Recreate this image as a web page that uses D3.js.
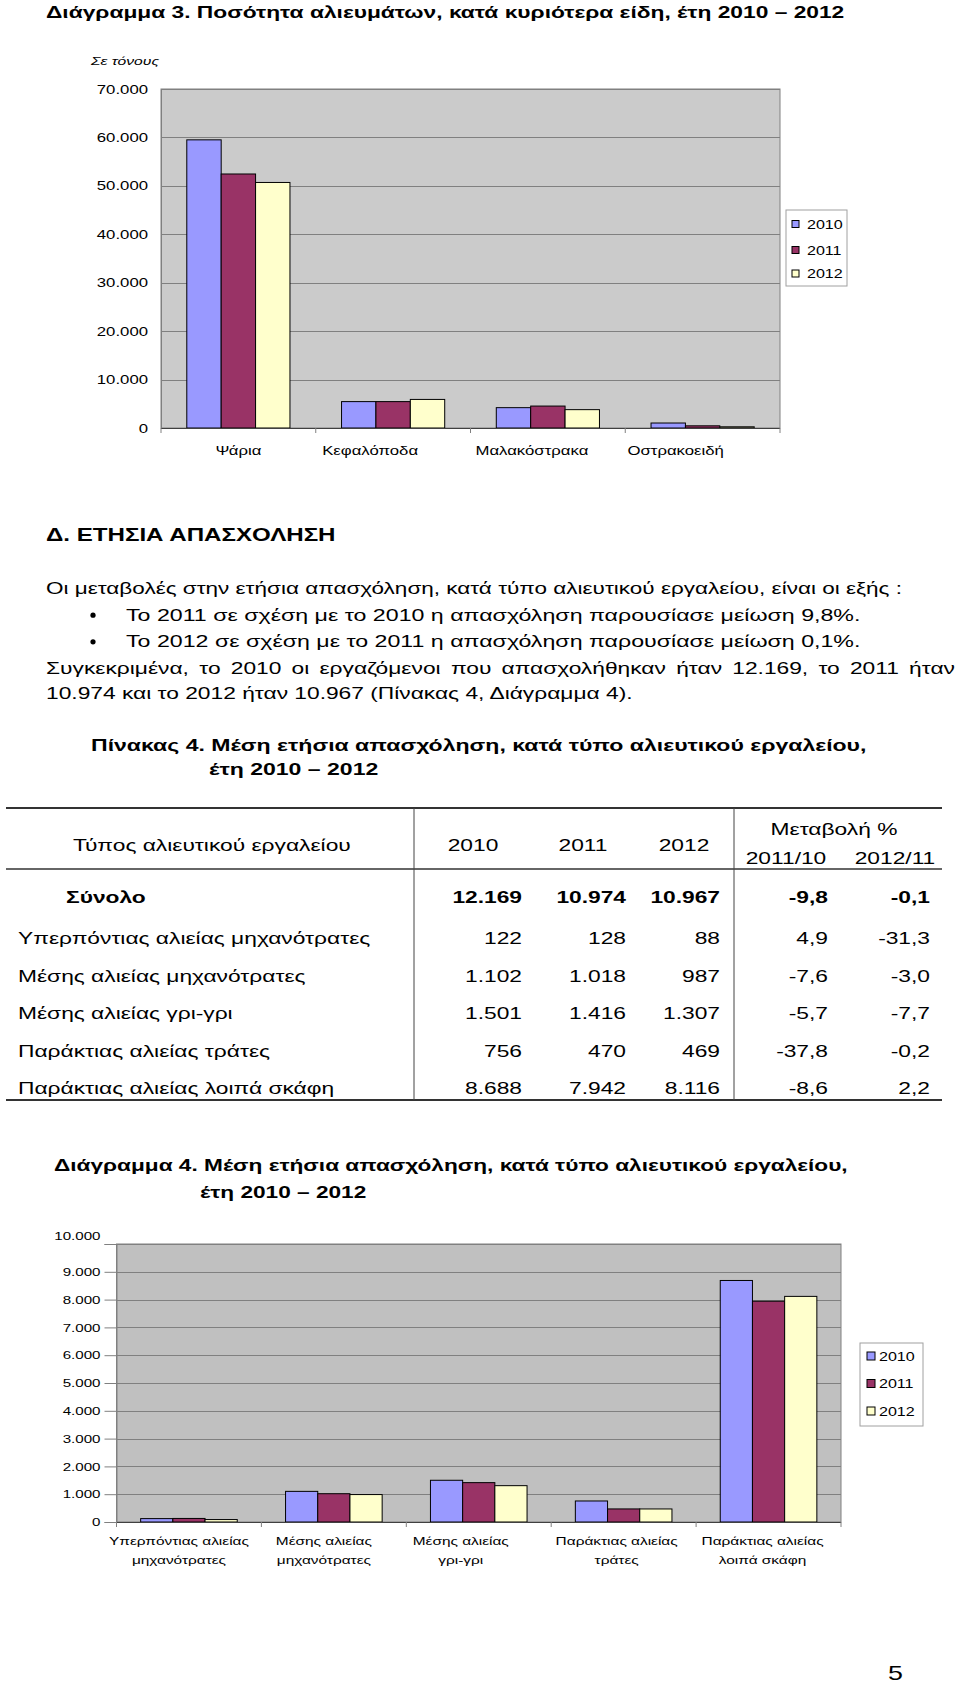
<!DOCTYPE html>
<html>
<head>
<meta charset="utf-8">
<script src="https://cdn.jsdelivr.net/npm/d3@7"></script>
<style>
  html, body { margin: 0; padding: 0; background: #fff; }
  svg { display: block; }
</style>
</head>
<body>
<svg id="page" width="960" height="1682"></svg>
<script>
// ---------------- DATA ----------------
const years = ["2010", "2011", "2012"];
const seriesColors = ["#9999FF", "#993366", "#FFFFCC"];

// Chart 3: catch quantity (tonnes) by main species group
const catchCategories = ["Ψάρια", "Κεφαλόποδα", "Μαλακόστρακα", "Οστρακοειδή"];
const catch2010 = [59500, 5450, 4200, 1030];
const catch2011 = [52450, 5450, 4530, 450];
const catch2012 = [50700, 5900, 3790, 250];
const catchTicks = [0, 10000, 20000, 30000, 40000, 50000, 60000, 70000];

// Table 4 / Chart 4: average annual employment by fishing gear type
const gearTypes = [
  "Υπερπόντιας αλιείας μηχανότρατες",
  "Μέσης αλιείας μηχανότρατες",
  "Μέσης αλιείας γρι-γρι",
  "Παράκτιας αλιείας τράτες",
  "Παράκτιας αλιείας λοιπά σκάφη"
];
const gearLabelLines = [
  ["Υπερπόντιας αλιείας", "μηχανότρατες"],
  ["Μέσης αλιείας", "μηχανότρατες"],
  ["Μέσης αλιείας", "γρι-γρι"],
  ["Παράκτιας αλιείας", "τράτες"],
  ["Παράκτιας αλιείας", "λοιπά σκάφη"]
];
const emp2010 = [122, 1102, 1501, 756, 8688];
const emp2011 = [128, 1018, 1416, 470, 7942];
const emp2012 = [88, 987, 1307, 469, 8116];
const empTotal = [12169, 10974, 10967];
const change1110 = ["4,9", "-7,6", "-5,7", "-37,8", "-8,6"];
const change1211 = ["-31,3", "-3,0", "-7,7", "-0,2", "2,2"];
const totalChange = ["-9,8", "-0,1"];
const empTicks = [0, 1000, 2000, 3000, 4000, 5000, 6000, 7000, 8000, 9000, 10000];

// Text
const title3 = "Διάγραμμα 3. Ποσότητα αλιευμάτων, κατά κυριότερα είδη,  έτη 2010 – 2012";
const unitLabel = "Σε τόνους";
const sectionHeading = "Δ. ΕΤΗΣΙΑ ΑΠΑΣΧΟΛΗΣΗ";
const introLine = "Οι μεταβολές στην ετήσια απασχόληση, κατά τύπο αλιευτικού εργαλείου, είναι οι εξής :";
const bullets = [
  "Το 2011 σε σχέση με το 2010 η απασχόληση παρουσίασε μείωση 9,8%.",
  "Το 2012 σε σχέση με το 2011 η απασχόληση παρουσίασε μείωση 0,1%."
];
const paraLine1 = "Συγκεκριμένα, το 2010 οι εργαζόμενοι που απασχολήθηκαν ήταν 12.169, το 2011 ήταν";
const paraLine2 = "10.974 και το 2012 ήταν 10.967 (Πίνακας 4, Διάγραμμα 4).";
const tableTitle = ["Πίνακας 4. Μέση ετήσια απασχόληση, κατά τύπο αλιευτικού εργαλείου,", "έτη 2010 – 2012"];
const chart4Title = ["Διάγραμμα 4. Μέση ετήσια απασχόληση, κατά τύπο αλιευτικού εργαλείου,", "έτη 2010 – 2012"];
const pageNumber = "5";

// ---------------- HELPERS ----------------
const SX = 1.34; // horizontal stretch of the source page
const BODY = 17;
const FONT = "'Liberation Sans', Arial, Helvetica, sans-serif";
const loc = d3.formatLocale({decimal: ",", thousands: ".", grouping: [3], currency: ["", "€"]});
const fmt = loc.format(",");

const svg = d3.select("#page").attr("font-family", FONT);
svg.append("rect").attr("width", 960).attr("height", 1682).attr("fill", "#fff");

function txt(parent, x, y, s, o = {}) {
  return parent.append("text")
    .attr("transform", `translate(${x},${y}) scale(${SX},1)`)
    .attr("font-size", o.size || BODY)
    .attr("font-weight", o.weight || "normal")
    .attr("font-style", o.style || "normal")
    .attr("text-anchor", o.anchor || "start")
    .attr("fill", "#000")
    .text(s);
}

function justified(parent, x0, x1, y, s, o = {}) {
  const words = s.split(" ");
  const tmp = parent.append("g");
  const widths = words.map(w => {
    const t = tmp.append("text").attr("font-size", o.size || BODY).text(w);
    return t.node().getComputedTextLength() * SX;
  });
  tmp.remove();
  const total = d3.sum(widths);
  const gap = (x1 - x0 - total) / (words.length - 1);
  let x = x0;
  words.forEach((w, i) => {
    txt(parent, x, y, w, o);
    x += widths[i] + gap;
  });
}

function scaleAxisText(sel) {
  sel.selectAll(".tick text").each(function () {
    const t = d3.select(this);
    const x = +t.attr("x") || 0;
    t.attr("x", x / SX).attr("transform", `scale(${SX},1)`);
  });
}

function barChart(cfg) {
  const g = svg.append("g");
  const x = d3.scaleBand().domain(cfg.categories).range([cfg.x0, cfg.x1]).padding(0);
  const xs = d3.scaleBand().domain(years)
    .range([x.bandwidth() / 6, x.bandwidth() * 5 / 6]).padding(0);
  const y = d3.scaleLinear().domain([0, d3.max(cfg.ticks)]).range([cfg.yBase, cfg.yTop]);

  // plot area
  g.append("rect").attr("x", cfg.x0).attr("y", cfg.yTop)
    .attr("width", cfg.x1 - cfg.x0).attr("height", cfg.yBase - cfg.yTop)
    .attr("fill", cfg.bg).attr("stroke", "#808080").attr("stroke-width", 1);

  // gridlines
  g.append("g").selectAll("line").data(cfg.ticks.filter(d => d > 0)).join("line")
    .attr("x1", cfg.x0).attr("x2", cfg.x1)
    .attr("y1", d => Math.round(y(d)) + 0.5).attr("y2", d => Math.round(y(d)) + 0.5)
    .attr("stroke", "#808080").attr("stroke-width", 1);

  // y axis
  const ya = g.append("g").attr("transform", `translate(${cfg.x0},0)`)
    .call(d3.axisLeft(y).tickValues(cfg.ticks).tickFormat(fmt)
      .tickSize(cfg.yTickSize).tickPadding(cfg.yTickPad));
  ya.select(".domain").attr("stroke", "#808080");
  ya.selectAll(".tick line").attr("stroke", "#808080");
  ya.selectAll(".tick text").attr("font-size", cfg.tickFont).attr("font-family", FONT).attr("fill", "#000");
  ya.selectAll(".tick").filter(d => d === d3.max(cfg.ticks)).select("text")
    .attr("dy", `${0.32 - cfg.topLabelShift / cfg.tickFont}em`);
  scaleAxisText(ya);

  // bars
  const series = cfg.values;
  const groups = g.append("g").selectAll("g").data(cfg.categories).join("g")
    .attr("transform", d => `translate(${x(d)},0)`);
  groups.selectAll("rect").data((d, i) => years.map((yr, s) => ({yr, s, v: series[s][i]})))
    .join("rect")
    .attr("x", d => xs(d.yr)).attr("width", xs.bandwidth())
    .attr("y", d => y(d.v)).attr("height", d => y(0) - y(d.v))
    .attr("fill", d => seriesColors[d.s]).attr("stroke", "#000").attr("stroke-width", 1);

  // x axis baseline + boundary ticks
  g.append("line").attr("x1", cfg.x0).attr("x2", cfg.x1)
    .attr("y1", cfg.yBase + 0.5).attr("y2", cfg.yBase + 0.5).attr("stroke", "#404040");
  const bounds = cfg.categories.map(c => x(c)).concat([cfg.x1]);
  g.append("g").selectAll("line").data(bounds).join("line")
    .attr("x1", d => d).attr("x2", d => d)
    .attr("y1", cfg.yBase).attr("y2", cfg.yBase + 5).attr("stroke", "#808080");

  // category labels
  const xa = g.append("g").attr("transform", `translate(0,${cfg.yBase})`)
    .call(d3.axisBottom(x).tickSize(0).tickFormat(() => ""));
  xa.select(".domain").remove();
  xa.selectAll(".tick").each(function (d, i) {
    const lines = cfg.labelLines[i];
    lines.forEach((ln, k) => {
      txt(d3.select(this), cfg.labelDx[i], cfg.labelBaselines[k] - cfg.yBase, ln,
        {size: cfg.labelFont, anchor: "middle"});
    });
  });

  // legend
  const L = cfg.legend;
  g.append("rect").attr("x", L.x).attr("y", L.y).attr("width", L.w).attr("height", L.h)
    .attr("fill", "#fff").attr("stroke", "#A0A0A0");
  years.forEach((yr, s) => {
    const cy = L.rows[s];
    g.append("rect").attr("x", L.sx).attr("y", cy - L.ss / 2).attr("width", L.ss).attr("height", L.ss)
      .attr("fill", seriesColors[s]).attr("stroke", "#000");
    txt(g, L.tx, cy + 4.5, yr, {size: L.font});
  });
  return g;
}

// ---------------- CHART 3 ----------------
txt(svg, 46, 17.5, title3, {size: 17, weight: "bold"});
txt(svg, 91, 65, unitLabel, {size: 11.7, style: "italic"});

barChart({
  categories: catchCategories,
  labelLines: catchCategories.map(c => [c]),
  labelBaselines: [454.5],
  labelDx: [0, -23, -16, -27],
  labelFont: 12.5,
  values: [catch2010, catch2011, catch2012],
  ticks: catchTicks,
  x0: 161, x1: 780, yTop: 89, yBase: 428,
  bg: "#CBCBCB",
  yTickSize: 0, yTickPad: 13, tickFont: 12.5, topLabelShift: 0,
  legend: {x: 786, y: 210, w: 61, h: 76, sx: 792, ss: 7, tx: 807, font: 12, rows: [224, 250, 273.5]}
});

// ---------------- TEXT SECTION ----------------
txt(svg, 46, 540.7, sectionHeading, {size: 18, weight: "bold"});
txt(svg, 46, 594, introLine, {size: 16.8});
bullets.forEach((b, i) => {
  const yb = [620.7, 647.3][i];
  svg.append("circle").attr("cx", 93).attr("cy", yb - 5.5).attr("r", 2.6).attr("fill", "#000");
  txt(svg, 126, yb, b, {size: 17.3});
});
justified(svg, 46, 955, 673.5, paraLine1);
txt(svg, 46, 699.3, paraLine2);

// ---------------- TABLE 4 ----------------
txt(svg, 91, 750.7, tableTitle[0], {size: 17.2, weight: "bold"});
txt(svg, 209, 775, tableTitle[1], {size: 17.2, weight: "bold"});

const tbl = svg.append("g");
tbl.append("line").attr("x1", 6).attr("x2", 942).attr("y1", 808).attr("y2", 808)
  .attr("stroke", "#333").attr("stroke-width", 2);
tbl.append("line").attr("x1", 6).attr("x2", 942).attr("y1", 869).attr("y2", 869)
  .attr("stroke", "#333").attr("stroke-width", 1.5);
tbl.append("line").attr("x1", 6).attr("x2", 942).attr("y1", 1100).attr("y2", 1100)
  .attr("stroke", "#333").attr("stroke-width", 2);
[414, 734].forEach(xv => tbl.append("line").attr("x1", xv).attr("x2", xv)
  .attr("y1", 808).attr("y2", 1100).attr("stroke", "#444").attr("stroke-width", 1));

txt(tbl, 73, 851, "Τύπος αλιευτικού εργαλείου");
years.forEach((yr, i) => txt(tbl, [473, 583, 684][i], 851, yr, {anchor: "middle"}));
txt(tbl, 834, 835, "Μεταβολή %", {anchor: "middle"});
txt(tbl, 786, 864, "2011/10", {anchor: "middle"});
txt(tbl, 895, 864, "2012/11", {anchor: "middle"});

const colRight = [522, 626, 720, 828, 930];
txt(tbl, 66, 903.3, "Σύνολο", {weight: "bold"});
empTotal.forEach((v, i) => txt(tbl, colRight[i], 903.3, fmt(v), {weight: "bold", anchor: "end"}));
totalChange.forEach((v, i) => txt(tbl, colRight[3 + i], 903.3, v, {weight: "bold", anchor: "end"}));

const rowY = [944.3, 981.7, 1019, 1056.7, 1094.3];
gearTypes.forEach((gname, r) => {
  const yy = rowY[r];
  txt(tbl, 18, yy, gname);
  [emp2010[r], emp2011[r], emp2012[r]].forEach((v, i) => txt(tbl, colRight[i], yy, fmt(v), {anchor: "end"}));
  txt(tbl, colRight[3], yy, change1110[r], {anchor: "end"});
  txt(tbl, colRight[4], yy, change1211[r], {anchor: "end"});
});

// ---------------- CHART 4 ----------------
txt(svg, 54, 1171, chart4Title[0], {size: 16.9, weight: "bold"});
txt(svg, 200, 1198, chart4Title[1], {size: 16.9, weight: "bold"});

barChart({
  categories: gearTypes,
  labelLines: gearLabelLines,
  labelBaselines: [1545, 1564],
  labelDx: [-10, -10, -18, -7, -6],
  labelFont: 11.5,
  values: [emp2010, emp2011, emp2012],
  ticks: empTicks,
  x0: 116.5, x1: 841, yTop: 1244, yBase: 1522,
  bg: "#C0C0C0",
  yTickSize: 12, yTickPad: 4, tickFont: 11.3, topLabelShift: 8,
  legend: {x: 860, y: 1343, w: 63, h: 83, sx: 867, ss: 8, tx: 879, font: 12, rows: [1356, 1383.5, 1411]}
});

txt(svg, 888, 1680, pageNumber, {size: 20});
</script>
</body>
</html>
